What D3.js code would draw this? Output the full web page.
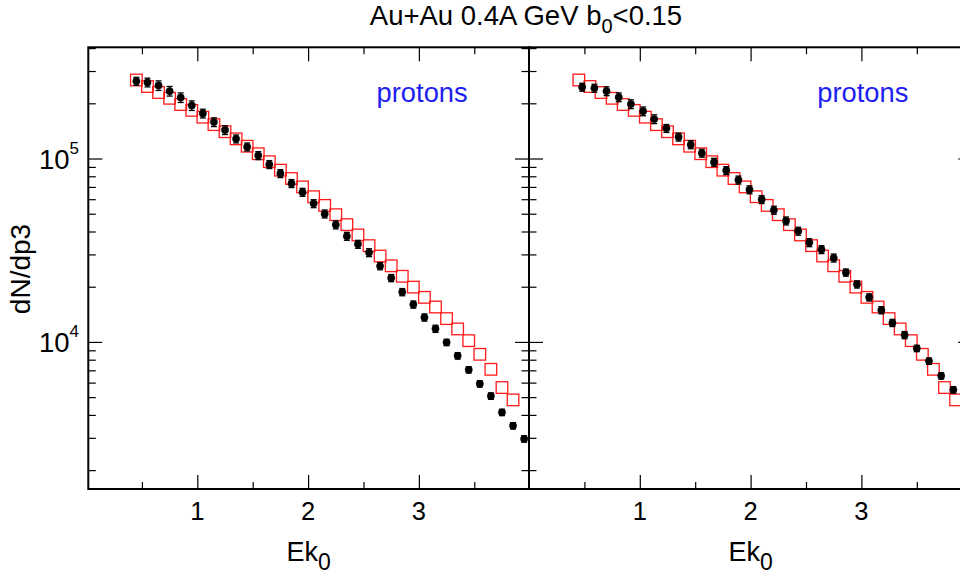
<!DOCTYPE html>
<html><head><meta charset="utf-8">
<script src="https://cdn.jsdelivr.net/npm/d3@7"></script>
<style>
body{margin:0;background:#fff}
svg{display:block}
text{font-family:"Liberation Sans",Arial,Helvetica,sans-serif}
</style>
</head><body>
<svg id="c" width="960" height="576"></svg>
<script>
// ---------------- data ----------------
const titleMain = "Au+Au 0.4A GeV b";
const titleSub = "0";
const titleTail = "<0.15";
const panelLabel = "protons";
const xTitleMain = "Ek";
const xTitleSub = "0";
const yTitle = "dN/dp3";

// left panel: measured points (black)
const xBlackL = [0.45,0.55,0.65,0.75,0.85,0.95,1.05,1.15,1.25,1.35,1.45,1.55,1.65,1.75,1.85,1.95,2.05,2.15,2.25,2.35,2.45,2.55,2.65,2.75,2.85,2.95,3.05,3.15,3.25,3.35,3.45,3.55,3.65,3.75,3.85,3.95];
const yBlackL = [2.64e5,2.60e5,2.50e5,2.33e5,2.15e5,1.945e5,1.76e5,1.58e5,1.43e5,1.28e5,1.157e5,1.038e5,9.28e4,8.28e4,7.31e4,6.55e4,5.68e4,4.99e4,4.35e4,3.77e4,3.41e4,3.07e4,2.59e4,2.23e4,1.87e4,1.60e4,1.36e4,1.18e4,9.94e3,8.40e3,7.05e3,5.91e3,5.07e3,4.13e3,3.49e3,2.96e3];
const eBlackL = [0.05,0.055,0.06,0.06,0.06,0.06,0.055,0.055,0.055,0.05,0.05,0.05,0.05,0.05,0.05,0.05,0.05,0.05,0.05,0.05,0.05,0.05,0.045,0.045,0.045,0.045,0.045,0.045,0.04,0.04,0.04,0.04,0.04,0.04,0.04,0.04];

// model (red open squares) — same in both panels
const xModel = [0.45,0.55,0.65,0.75,0.85,0.95,1.05,1.15,1.25,1.35,1.45,1.55,1.65,1.75,1.85,1.95,2.05,2.15,2.25,2.35,2.45,2.55,2.65,2.75,2.85,2.95,3.05,3.15,3.25,3.35,3.45,3.55,3.65,3.75,3.85];
const yModel = [2.68e5,2.47e5,2.29e5,2.13e5,1.97e5,1.83e5,1.68e5,1.53e5,1.40e5,1.28e5,1.167e5,1.062e5,9.61e4,8.64e4,7.78e4,7.00e4,6.19e4,5.55e4,4.94e4,4.36e4,3.83e4,3.35e4,2.94e4,2.60e4,2.28e4,1.99e4,1.75e4,1.55e4,1.34e4,1.177e4,1.016e4,8.56e3,7.09e3,5.64e3,4.83e3];

// right panel: measured points (black)
const xBlackR = [0.48,0.59,0.70,0.81,0.92,1.03,1.13,1.24,1.35,1.46,1.56,1.67,1.78,1.89,1.99,2.10,2.21,2.32,2.43,2.53,2.64,2.75,2.86,2.96,3.07,3.18,3.28,3.39,3.50,3.61,3.72,3.83];
const yBlackR = [2.45e5,2.42e5,2.33e5,2.16e5,1.98e5,1.81e5,1.64e5,1.46e5,1.31e5,1.19e5,1.07e5,9.55e4,8.60e4,7.64e4,6.76e4,5.98e4,5.23e4,4.57e4,4.02e4,3.48e4,3.19e4,2.87e4,2.39e4,2.06e4,1.75e4,1.49e4,1.27e4,1.09e4,9.22e3,7.86e3,6.53e3,5.48e3];
const eBlackR = [0.05,0.05,0.055,0.055,0.055,0.055,0.055,0.05,0.05,0.05,0.05,0.05,0.05,0.05,0.05,0.05,0.05,0.05,0.05,0.05,0.05,0.05,0.045,0.045,0.045,0.045,0.045,0.045,0.04,0.04,0.04,0.04];

// axis ticks
const xMajorTicks = [1,2,3];
const xMinorTicks = [0.5,1.5,2.5,3.5];
const yMajorTicks = [1e4,1e5];
const yMinorTicks = [2e3,3e3,4e3,5e3,6e3,7e3,8e3,9e3,2e4,3e4,4e4,5e4,6e4,7e4,8e4,9e4,2e5,3e5,4e5];
const yTickLabels = [{v:1e4, base:"10", exp:"4"},{v:1e5, base:"10", exp:"5"}];

// ---------------- drawing ----------------
const svg = d3.select("#c");
const fTop = 47.3, fBot = 489;
const y = d3.scaleLog().domain([1578, 4.04e5]).range([fBot, fTop]);

const panels = [
  {x0:88.3, x1:529, dom:[0.016,3.994], bx:xBlackL, by:yBlackL, be:eBlackL, yLabels:true},
  {x0:529, x1:972.2, dom:[0,4], bx:xBlackR, by:yBlackR, be:eBlackR, yLabels:false}
];

function styleTicks(g){
  g.select(".domain").remove();
  g.selectAll("line").attr("stroke","#000").attr("stroke-width",1.2);
}

panels.forEach((p,pi)=>{
  const x = d3.scaleLinear().domain(p.dom).range([p.x0,p.x1]);
  const g = svg.append("g");

  g.append("g").attr("transform",`translate(0,${fBot})`).call(d3.axisBottom(x).tickValues(xMajorTicks).tickSize(-14).tickFormat("")).call(styleTicks);
  g.append("g").attr("transform",`translate(0,${fBot})`).call(d3.axisBottom(x).tickValues(xMinorTicks).tickSize(-7).tickFormat("")).call(styleTicks);
  g.append("g").attr("transform",`translate(0,${fTop})`).call(d3.axisTop(x).tickValues(xMajorTicks).tickSize(-14).tickFormat("")).call(styleTicks);
  g.append("g").attr("transform",`translate(0,${fTop})`).call(d3.axisTop(x).tickValues(xMinorTicks).tickSize(-7).tickFormat("")).call(styleTicks);
  g.append("g").attr("transform",`translate(${p.x0},0)`).call(d3.axisLeft(y).tickValues(yMajorTicks).tickSize(-14).tickFormat("")).call(styleTicks);
  g.append("g").attr("transform",`translate(${p.x0},0)`).call(d3.axisLeft(y).tickValues(yMinorTicks).tickSize(-7.5).tickFormat("")).call(styleTicks);
  g.append("g").attr("transform",`translate(${p.x1},0)`).call(d3.axisRight(y).tickValues(yMajorTicks).tickSize(-14).tickFormat("")).call(styleTicks);
  g.append("g").attr("transform",`translate(${p.x1},0)`).call(d3.axisRight(y).tickValues(yMinorTicks).tickSize(-7.5).tickFormat("")).call(styleTicks);

  g.append("rect").attr("x",p.x0).attr("y",fTop).attr("width",p.x1-p.x0).attr("height",fBot-fTop)
    .attr("fill","none").attr("stroke","#000").attr("stroke-width",2);

  const s = 11.6;
  g.append("g").selectAll("rect").data(xModel.map((v,i)=>[v,yModel[i]])).join("rect")
    .attr("x",d=>x(d[0])-s/2).attr("y",d=>y(d[1])-s/2).attr("width",s).attr("height",s)
    .attr("fill","none").attr("stroke","#ff1a1a").attr("stroke-width",1.3);

  const pts = p.bx.map((v,i)=>({x:v,y:p.by[i],e:p.be[i]}));
  const eg = g.append("g").attr("stroke","#000").attr("stroke-width",1.3);
  pts.forEach(d=>{
    const cx = x(d.x), yl = y(d.y*(1-d.e)), yh = y(d.y*(1+d.e));
    eg.append("line").attr("x1",cx).attr("x2",cx).attr("y1",yl).attr("y2",yh);
    eg.append("line").attr("x1",cx-3).attr("x2",cx+3).attr("y1",yl).attr("y2",yl);
    eg.append("line").attr("x1",cx-3).attr("x2",cx+3).attr("y1",yh).attr("y2",yh);
  });
  g.append("g").selectAll("circle").data(pts).join("circle")
    .attr("cx",d=>x(d.x)).attr("cy",d=>y(d.y)).attr("r",3.7)
    .attr("fill","#000").attr("stroke","rgba(0,0,0,0.35)").attr("stroke-width",1);

  g.append("g").selectAll("text").data(xMajorTicks).join("text")
    .attr("x",d=>x(d)).attr("y",519.5).attr("text-anchor","middle")
    .attr("font-size",25.5).text(d=>d3.format("d")(d));

  const xt = g.append("text").attr("x",(p.x0+p.x1)/2).attr("y",561).attr("text-anchor","middle").attr("font-size",27);
  xt.append("tspan").text(xTitleMain);
  xt.append("tspan").attr("font-size",23).attr("dy",9).text(xTitleSub);

  g.append("text").attr("x",p.x0+288.3).attr("y",101.5).attr("font-size",27.3)
    .attr("fill","#1e1ef0").text(panelLabel);

  if(p.yLabels){
    yTickLabels.forEach(t=>{
      const tt = g.append("text").attr("x",79).attr("y",y(t.v)+10).attr("text-anchor","end").attr("font-size",27.5);
      tt.append("tspan").text(t.base);
      tt.append("tspan").attr("font-size",17).attr("dy",-15).text(t.exp);
    });
  }
});

svg.append("text").attr("transform","translate(30,269) rotate(-90)").attr("text-anchor","middle")
  .attr("font-size",28).text(yTitle);

const tt = svg.append("text").attr("x",526).attr("y",25).attr("text-anchor","middle").attr("font-size",27.5);
tt.append("tspan").text(titleMain);
tt.append("tspan").attr("font-size",20).attr("dy",8).text(titleSub);
tt.append("tspan").attr("dy",-8).text(titleTail);
</script>
</body></html>
